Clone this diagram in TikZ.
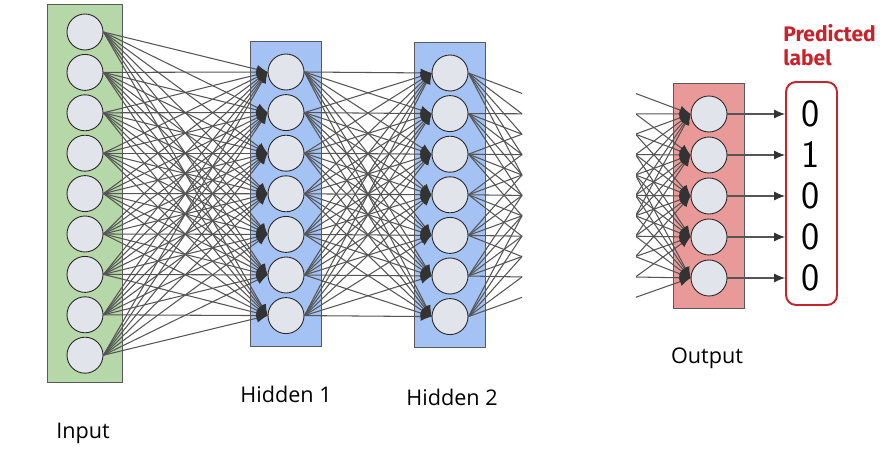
\documentclass[tikz,border=0pt]{standalone}
\usepackage{fontspec}
\setmainfont{Open Sans}
\newfontfamily\predfont{Fira Sans}
\usetikzlibrary{arrows.meta,fit,backgrounds}

\definecolor{ingreen}{HTML}{B6D7A8}
\definecolor{hidblue}{HTML}{A4C2F4}
\definecolor{outred}{HTML}{EA9999}
\definecolor{neurgray}{HTML}{E1E4EA}
\definecolor{edgegray}{HTML}{555555}
\definecolor{predred}{HTML}{C8232B}

\tikzset{
  neuron/.style={circle, draw=black!85, fill=neurgray, minimum size=0.72cm, inner sep=0pt, line width=0.5pt},
  layerbox/.style={draw=black!65, line width=0.6pt, inner xsep=0.34cm, inner ysep=0.25cm},
  conn/.style={draw=edgegray, line width=0.6pt, -{Latex[length=2.2mm,width=1.8mm,color=black!80]}},
  cut/.style={draw=edgegray, line width=0.6pt},
  lab/.style={font=\fontsize{12.3}{14}\selectfont},
  digit/.style={font=\sffamily\fontsize{22}{24}\selectfont, inner sep=0pt},
  predbox/.style={draw=predred, line width=1.1pt, rounded corners=0.2cm, fill=white}
}

\begin{document}
\begin{tikzpicture}[x=0.02cm, y=-0.02cm]
\useasboundingbox (0,0) rectangle (889,459);

%Nodes
\node[neuron] (in1) at (85,32) {};
\node[neuron] (in2) at (85,72.4) {};
\node[neuron] (in3) at (85,112.8) {};
\node[neuron] (in4) at (85,153.2) {};
\node[neuron] (in5) at (85,193.6) {};
\node[neuron] (in6) at (85,234) {};
\node[neuron] (in7) at (85,274.4) {};
\node[neuron] (in8) at (85,314.8) {};
\node[neuron] (in9) at (85,355.2) {};

\node[neuron] (hA1) at (286,72) {};
\node[neuron] (hA2) at (286,112.6) {};
\node[neuron] (hA3) at (286,153.2) {};
\node[neuron] (hA4) at (286,193.8) {};
\node[neuron] (hA5) at (286,234.4) {};
\node[neuron] (hA6) at (286,275) {};
\node[neuron] (hA7) at (286,315.6) {};

\node[neuron] (hB1) at (450,73) {};
\node[neuron] (hB2) at (450,113.6) {};
\node[neuron] (hB3) at (450,154.2) {};
\node[neuron] (hB4) at (450,194.8) {};
\node[neuron] (hB5) at (450,235.4) {};
\node[neuron] (hB6) at (450,276) {};
\node[neuron] (hB7) at (450,316.6) {};

\node[neuron] (out1) at (709,114) {};
\node[neuron] (out2) at (709,155) {};
\node[neuron] (out3) at (709,196) {};
\node[neuron] (out4) at (709,237) {};
\node[neuron] (out5) at (709,278) {};

%hidden ends of the cut part
\coordinate (nx1) at (576,114);
\coordinate (nx2) at (576,155);
\coordinate (nx3) at (576,196);
\coordinate (nx4) at (576,237);
\coordinate (nx5) at (576,278);

\coordinate (pv1) at (581,73);
\coordinate (pv2) at (581,113.6);
\coordinate (pv3) at (581,154.2);
\coordinate (pv4) at (581,194.8);
\coordinate (pv5) at (581,235.4);
\coordinate (pv6) at (581,276);
\coordinate (pv7) at (581,316.6);

%Boxes
\begin{scope}[on background layer]
\node[layerbox, fill=ingreen, fit=(in1)(in9), inner xsep=0.38cm, inner ysep=0.18cm] (inbox) {};
\node[layerbox, fill=hidblue, fit=(hA1)(hA7)] (hAbox) {};
\node[layerbox, fill=hidblue, fit=(hB1)(hB7)] (hBbox) {};
\node[layerbox, fill=outred, fit=(out1)(out5)] (outbox) {};
\end{scope}

\node[predbox, minimum width=1.02cm, minimum height=4.46cm] (predbox) at (811.5,193.5) {};
\node[digit] (d1) at (811,113.5) {0};
\node[digit] (d2) at (811,155) {1};
\node[digit] (d3) at (811,196) {0};
\node[digit] (d4) at (811,237) {0};
\node[digit] (d5) at (811,278) {0};

%Labels
\node[lab] (inlab) at (83,433) {Input};
\node[lab] (hAlab) at (286,394) {Hidden 1};
\node[lab] (hBlab) at (452,397) {Hidden 2};
\node[lab] (outlab) at (707,358) {Output};
\node[font=\predfont\bfseries\fontsize{12}{13.5}\selectfont, text=predred, align=left, anchor=north west, inner sep=0pt] (predlab) at (783,24) {Predicted\\label};

%Lines
\foreach \i in {1,...,9}
  \foreach \j in {1,...,7}
    \draw[conn] (in\i.east) -- (hA\j.west);

\foreach \i in {1,...,7}
  \foreach \j in {1,...,7}
    \draw[conn] (hA\i.east) -- (hB\j.west);

\begin{scope}
\clip (440,0) rectangle (522,459);
\foreach \i in {1,...,7}
  \foreach \j in {1,...,5}
    \draw[cut] (hB\i.east) -- (nx\j);
\end{scope}

\begin{scope}
\clip (636,0) rectangle (700,459);
\foreach \i in {1,...,7}
  \foreach \j in {1,...,5}
    \draw[conn] (pv\i) -- (out\j.west);
\end{scope}

\foreach \j in {1,...,5}
  \draw[conn] (out\j.east) -- (out\j -| predbox.west);
\end{tikzpicture}
\end{document}
